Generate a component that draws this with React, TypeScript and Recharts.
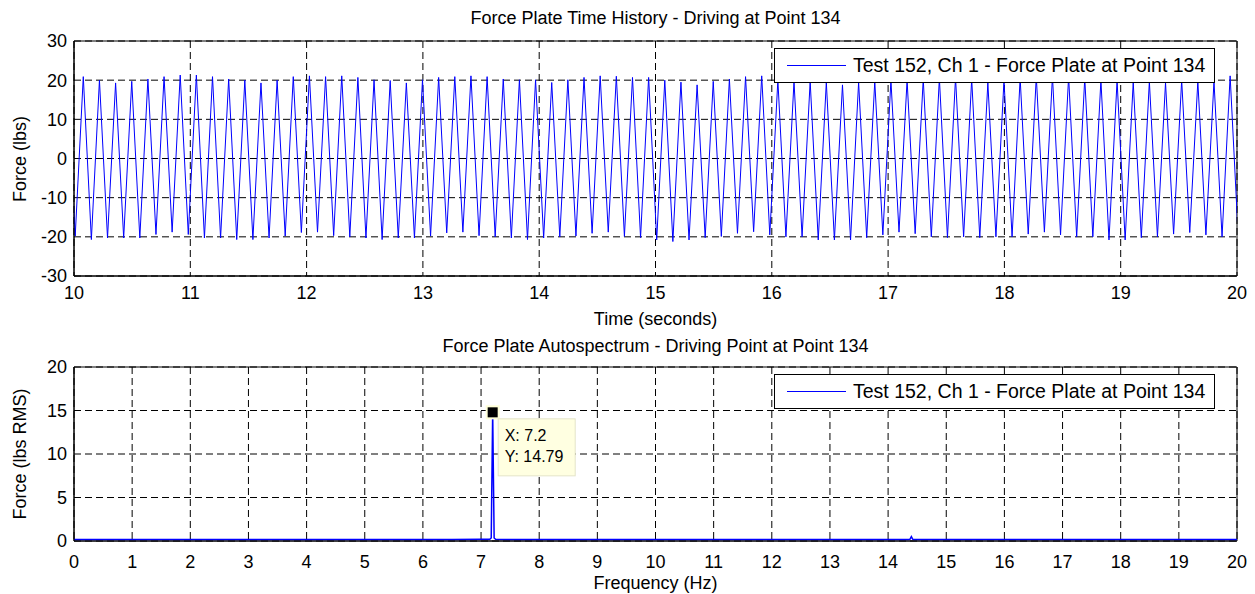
import React from 'react';
import {
  LineChart,
  Line,
  XAxis,
  YAxis,
  CartesianGrid,
  ReferenceArea,
  ReferenceDot,
} from 'recharts';

const FONT = '"Liberation Sans", Arial, Helvetica, sans-serif';

// ---------- axis ticks ----------
const TIME_TICKS = [10, 11, 12, 13, 14, 15, 16, 17, 18, 19, 20];
const FORCE_TICKS = [-30, -20, -10, 0, 10, 20, 30];
const FREQ_TICKS = [0, 1, 2, 3, 4, 5, 6, 7, 8, 9, 10, 11, 12, 13, 14, 15, 16, 17, 18, 19, 20];
const RMS_TICKS = [0, 5, 10, 15, 20];

// ---------- time history ----------
// drive frequency read from the data tip, first extremum read just before t = 10 s
const DRIVE_FREQUENCY_HZ = 7.2;
const FIRST_EXTREMUM_TIME = 9.941;
// successive peak values (lbs); first entry is the peak just before the window
const PEAK_FORCE = [
  20.9, 20.9, 20.0, 19.3, 19.7, 20.3, 20.9, 21.3, 21.3, 20.9,
  20.3, 20.0, 19.3, 20.0, 20.9, 21.1, 20.9, 21.1, 20.7, 20.1,
  19.9, 19.3, 20.1, 20.7, 20.9, 21.1, 20.9, 20.3, 20.1, 20.1,
  19.4, 20.1, 20.7, 21.1, 21.0, 20.7, 20.7, 20.0, 19.5, 18.8,
  19.7, 20.3, 20.9, 21.1, 20.0, 19.7, 19.7, 19.5, 18.8, 19.5,
  19.7, 20.0, 20.0, 20.3, 20.5, 20.7, 20.3, 19.3, 20.0, 20.5,
  20.9, 21.0, 20.9, 20.5, 20.0, 19.9, 19.5, 19.7, 19.4, 20.0,
  19.7, 19.7, 21.1,
];
// successive trough values (lbs); last entry is just after the window
const TROUGH_FORCE = [
  -19.8, -20.7, -20.3, -20.3, -20.3, -19.4, -18.8, -19.4, -20.3, -20.3,
  -20.7, -20.7, -20.3, -19.8, -18.9, -18.8, -19.7, -20.0, -20.3, -20.7,
  -20.3, -20.3, -19.8, -19.0, -18.8, -19.7, -20.0, -20.3, -20.7, -20.3,
  -20.0, -19.8, -19.1, -18.8, -19.9, -20.2, -20.8, -21.2, -20.8, -20.2,
  -19.9, -19.1, -18.7, -19.5, -20.0, -20.0, -20.8, -20.8, -20.8, -20.2,
  -19.5, -18.8, -19.2, -20.0, -20.2, -20.0, -20.2, -20.0, -20.0, -19.3,
  -18.8, -19.5, -20.0, -20.0, -20.8, -20.8, -20.2, -20.0, -19.3, -18.9,
  -19.5, -20.0, -20.0,
];

// ---------- autospectrum ----------
const SPEC_FREQ = [
  0, 0.5, 1, 1.5, 2, 2.5, 3, 3.5, 4, 4.5, 5, 5.5, 6, 6.5, 7, 7.15,
  7.175, 7.2, 7.225, 7.25, 7.5, 8, 8.5, 9, 9.5, 10, 10.5, 11, 11.5, 12,
  12.5, 13, 13.5, 14, 14.35, 14.375, 14.4, 14.425, 14.45, 15, 15.5, 16,
  16.5, 17, 17.5, 18, 18.5, 19, 19.5, 20,
];
const SPEC_AMP = [
  0.18, 0.16, 0.17, 0.16, 0.18, 0.17, 0.16, 0.17, 0.18, 0.16, 0.17, 0.18, 0.17, 0.18, 0.19, 0.2,
  0.35, 14.79, 0.35, 0.2, 0.18, 0.17, 0.16, 0.17, 0.18, 0.16, 0.17, 0.16, 0.18, 0.17,
  0.16, 0.17, 0.18, 0.17, 0.18, 0.2, 0.5, 0.2, 0.18, 0.17, 0.16, 0.17,
  0.18, 0.16, 0.17, 0.16, 0.18, 0.17, 0.16, 0.17,
];

// data tip
const TIP_X = 7.2;
const TIP_Y = 14.79;

const LEGEND_TEXT = 'Test 152, Ch 1 - Force Plate at Point 134';

// ---------- build tables ----------
const halfPeriod = 1 / (2 * DRIVE_FREQUENCY_HZ);
const timeData: { t: number; f: number }[] = [];
timeData.push({ t: FIRST_EXTREMUM_TIME, f: PEAK_FORCE[0] });
for (let i = 0; i < TROUGH_FORCE.length; i++) {
  timeData.push({ t: FIRST_EXTREMUM_TIME + (2 * i + 1) * halfPeriod, f: TROUGH_FORCE[i] });
  if (i + 1 < PEAK_FORCE.length) {
    timeData.push({ t: FIRST_EXTREMUM_TIME + (2 * i + 2) * halfPeriod, f: PEAK_FORCE[i + 1] });
  }
}
const specData = SPEC_FREQ.map((f, i) => ({ f, a: SPEC_AMP[i] }));

const tickStyle = { fontSize: 18, fill: '#000', fontFamily: FONT };
const GRID_DASH = '7 4';

const DataTip = (props: any) => {
  const { cx, cy } = props;
  if (cx == null || cy == null) return null;
  return (
    <g>
      <rect x={cx - 7} y={cy - 7} width={14} height={14} fill="#ffffd8" />
      <rect x={cx - 5} y={cy - 5} width={10} height={10} fill="#000" />
      <rect x={cx + 5.5} y={cy + 6.5} width={77} height={57} fill="#ffffe1" stroke="#e4e4c8" strokeWidth={1} />
      <text x={cx + 12} y={cy + 29} fontSize={16} fontFamily={FONT} fill="#000">
        {`X: ${TIP_X}`}
      </text>
      <text x={cx + 12} y={cy + 50} fontSize={16} fontFamily={FONT} fill="#000">
        {`Y: ${TIP_Y}`}
      </text>
    </g>
  );
};

const LegendBox = ({ top }: { top: number }) => (
  <div
    style={{
      position: 'absolute',
      left: 774,
      top,
      width: 441,
      height: 35,
      boxSizing: 'border-box',
      border: '1px solid #000',
      background: '#fff',
    }}
  >
    <svg width={80} height={33} style={{ position: 'absolute', left: 0, top: 0 }}>
      <line x1={12} x2={71} y1={16.5} y2={16.5} stroke="#0000ff" strokeWidth={1} />
    </svg>
    <div
      style={{
        position: 'absolute',
        left: 78,
        top: 0,
        height: 33,
        lineHeight: '33px',
        fontSize: 19.5,
        fontFamily: FONT,
        color: '#000',
        whiteSpace: 'nowrap',
      }}
    >
      {LEGEND_TEXT}
    </div>
  </div>
);

export default function App() {
  return (
    <div style={{ position: 'absolute', left: 0, top: 0, width: 1255, height: 594, background: '#fff', overflow: 'hidden' }}>
      <div style={{ position: 'absolute', left: 0, top: 0 }}>
        <LineChart width={1255} height={335} data={timeData} margin={{ top: 41, right: 18, bottom: 35, left: 0 }}>
          <CartesianGrid stroke="#000" strokeDasharray={GRID_DASH} />
          <XAxis
            dataKey="t"
            type="number"
            domain={[10, 20]}
            ticks={TIME_TICKS}
            interval={0}
            allowDataOverflow
            height={24}
            tickLine={false}
            tickSize={0}
            tickMargin={10}
            axisLine={{ stroke: '#000' }}
            tick={tickStyle}
          />
          <YAxis
            type="number"
            domain={[-30, 30]}
            ticks={FORCE_TICKS}
            interval={0}
            allowDataOverflow
            width={74}
            tickLine={false}
            tickSize={0}
            tickMargin={7}
            axisLine={{ stroke: '#000' }}
            tick={tickStyle}
          />
          <ReferenceArea x1={10} x2={20} y1={-30} y2={30} fill="none" stroke="#000" strokeWidth={1} ifOverflow="visible" />
          <Line dataKey="f" type="linear" stroke="#0000ff" strokeWidth={1} dot={false} isAnimationActive={false} />
        </LineChart>
      </div>
      <div style={{ position: 'absolute', left: 0, top: 335 }}>
        <LineChart width={1255} height={259} data={specData} margin={{ top: 32, right: 18, bottom: 29, left: 0 }}>
          <CartesianGrid stroke="#000" strokeDasharray={GRID_DASH} />
          <XAxis
            dataKey="f"
            type="number"
            domain={[0, 20]}
            ticks={FREQ_TICKS}
            interval={0}
            allowDataOverflow
            height={24}
            tickLine={false}
            tickSize={0}
            tickMargin={14}
            axisLine={{ stroke: '#000' }}
            tick={tickStyle}
          />
          <YAxis
            type="number"
            domain={[0, 20]}
            ticks={RMS_TICKS}
            interval={0}
            allowDataOverflow
            width={74}
            tickLine={false}
            tickSize={0}
            tickMargin={7}
            axisLine={{ stroke: '#000' }}
            tick={tickStyle}
          />
          <ReferenceArea x1={0} x2={20} y1={0} y2={20} fill="none" stroke="#000" strokeWidth={1} ifOverflow="visible" />
          <Line dataKey="a" type="linear" stroke="#0000ff" strokeWidth={1.5} dot={false} isAnimationActive={false} />
          <ReferenceDot x={TIP_X} y={TIP_Y} r={5} shape={DataTip} ifOverflow="visible" />
        </LineChart>
      </div>

      <LegendBox top={48} />
      <LegendBox top={374} />

      <svg width={1255} height={594} style={{ position: 'absolute', left: 0, top: 0, pointerEvents: 'none' }}>
        <g fontFamily={FONT} fill="#000" fontSize={18}>
          <text x={655.5} y={24} textAnchor="middle">Force Plate Time History - Driving at Point 134</text>
          <text x={655.5} y={325} textAnchor="middle">Time (seconds)</text>
          <text x={655.5} y={352} textAnchor="middle">Force Plate Autospectrum - Driving Point at Point 134</text>
          <text x={655.5} y={589} textAnchor="middle">Frequency (Hz)</text>
          <text transform="translate(26,159) rotate(-90)" textAnchor="middle">Force (lbs)</text>
          <text transform="translate(26,454) rotate(-90)" textAnchor="middle">Force (lbs RMS)</text>
        </g>
      </svg>
    </div>
  );
}
